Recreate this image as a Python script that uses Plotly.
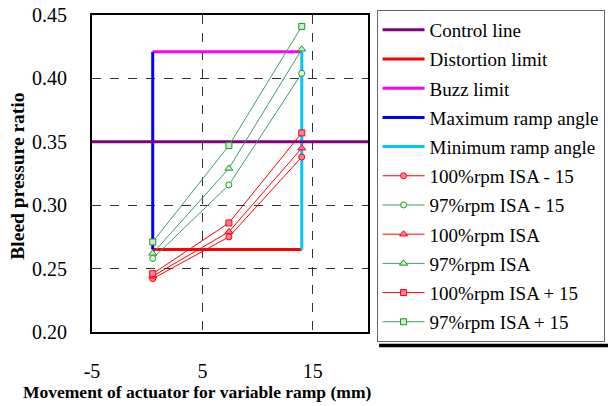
import plotly.graph_objects as go

# ---- data ----
x_ramp = [0.5, 7.4, 14.0]
rpm100_isa_m15 = [0.242, 0.275, 0.338]
rpm97_isa_m15 = [0.258, 0.316, 0.404]
rpm100_isa = [0.244, 0.279, 0.345]
rpm97_isa = [0.262, 0.329, 0.423]
rpm100_isa_p15 = [0.246, 0.286, 0.357]
rpm97_isa_p15 = [0.271, 0.347, 0.441]

control_x = [-5, 20]
control_y = [0.35, 0.35]
distortion_x = [0.5, 14.0]
distortion_y = [0.265, 0.265]
buzz_x = [0.5, 14.0]
buzz_y = [0.421, 0.421]
max_ramp_x = [0.5, 0.5]
max_ramp_y = [0.265, 0.421]
min_ramp_x = [14.0, 14.0]
min_ramp_y = [0.265, 0.421]

x_ticks = [-5, 5, 15]
x_tick_text = ["-5", "5", "15"]
y_ticks = [0.20, 0.25, 0.30, 0.35, 0.40, 0.45]
y_tick_text = ["0.20", "0.25", "0.30", "0.35", "0.40", "0.45"]

SERIF = "Liberation Serif"
RED = "#ff0000"
PINK = "#ff7fa0"
GREEN_LINE = "#3c9c6c"
GREEN_MK = "#1a9a1a"

fig = go.Figure()

def limit(name, x, y, color, rank):
    fig.add_trace(go.Scatter(x=x, y=y, mode="lines", name=name,
                             legendgroup=name,
                             line=dict(color=color, width=3), legendrank=rank))

limit("Distortion limit", distortion_x, distortion_y, RED, 2)
limit("Buzz limit", buzz_x, buzz_y, "#ff00ff", 3)
limit("Maximum ramp angle", max_ramp_x, max_ramp_y, "#0000ff", 4)
limit("Minimum ramp angle", min_ramp_x, min_ramp_y, "#00c8ff", 5)
limit("Control line", control_x, control_y, "#800080", 1)

def series(name, y, red, symbol, rank, fill):
    fig.add_trace(go.Scatter(
        x=x_ramp, y=y, mode="lines+markers", name=name, legendrank=rank,
        legendgroup=name,
        line=dict(color=RED if red else GREEN_LINE, width=1),
        marker=dict(symbol=symbol, size=7 if symbol == "triangle-up" else 6,
                    color=fill,
                    line=dict(color=RED if red else GREEN_MK, width=1)),
    ))

series("100%rpm ISA - 15", rpm100_isa_m15, True, "circle", 6, PINK)
series("97%rpm ISA - 15", rpm97_isa_m15, False, "circle", 7, "#e8ffe8")
series("100%rpm ISA", rpm100_isa, True, "triangle-up", 8, PINK)
series("97%rpm ISA", rpm97_isa, False, "triangle-up", 9, "#c8f5c8")
series("100%rpm ISA + 15", rpm100_isa_p15, True, "square", 10, PINK)
series("97%rpm ISA + 15", rpm97_isa_p15, False, "square", 11, "#c8f0c8")

axis_common = dict(
    showline=True, linecolor="black", linewidth=2, mirror=True,
    showgrid=True, gridcolor="#333333", gridwidth=1, griddash="dash",
    zeroline=False, ticks="", automargin=False,
    tickfont=dict(family=SERIF, size=20, color="black"),
)

fig.update_layout(
    width=608, height=406,
    margin=dict(l=92, r=240, t=15, b=74, autoexpand=False),
    paper_bgcolor="white", plot_bgcolor="white",
    font=dict(family=SERIF, color="black"),
    xaxis=dict(range=[-5, 20], tickvals=x_ticks, ticktext=x_tick_text,
               ticklabelstandoff=20, **axis_common),
    yaxis=dict(range=[0.20, 0.45], tickvals=y_ticks, ticktext=y_tick_text,
               ticklabelstandoff=19, **axis_common),
    legend=dict(x=1.031, y=1.016, xanchor="left", yanchor="top",
                font=dict(family=SERIF, size=19, color="black"),
                bordercolor="#666666", borderwidth=1, bgcolor="white",
                traceorder="grouped", tracegroupgap=1.5, itemwidth=42,
                maxheight=400),
    showlegend=True,
)

# legend drop shadow
fig.add_shape(type="rect", xref="paper", yref="paper",
              x0=1.04, x1=1.9, y0=-0.048, y1=-0.037,
              fillcolor="black", line=dict(width=0), layer="below")

fig.add_annotation(text="<b>Movement of actuator for variable ramp (mm)</b>",
                   xref="paper", yref="paper", x=0.382, y=-0.19,
                   xanchor="center", yanchor="middle", showarrow=False,
                   font=dict(family=SERIF, size=17.5, color="black"))
fig.add_annotation(text="<b>Bleed pressure ratio</b>", textangle=-90,
                   xref="paper", yref="paper", x=-0.268, y=0.49,
                   xanchor="center", yanchor="middle", showarrow=False,
                   font=dict(family=SERIF, size=19.5, color="black"))

fig.write_html("out.html")
